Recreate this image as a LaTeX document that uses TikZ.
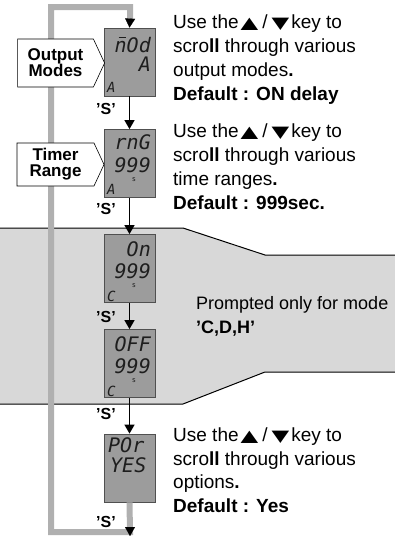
\documentclass[tikz,border=0pt]{standalone}
\usepackage{fontspec}
\usepackage{graphicx}
\setmainfont{Liberation Sans}
\newfontfamily\symfont{DejaVu Sans}
\newfontfamily\segfont{DejaVu Sans Mono}
\usetikzlibrary{arrows.meta,shapes.symbols}
\definecolor{loopgray}{HTML}{B0B0B0}
\definecolor{bandgray}{HTML}{D8D8D8}
\definecolor{boxgray}{HTML}{9C9C9C}
\definecolor{boxedge}{HTML}{505050}
\definecolor{segink}{HTML}{1E1E1E}
\newcommand{\uptri}{{\symfont\fontsize{17}{17}\selectfont\scalebox{1.35}[0.95]{▲}}}
\newcommand{\dntri}{{\symfont\fontsize{17}{17}\selectfont\scalebox{1.35}[0.95]{▼}}}
\newcommand{\barn}{\rlap{\kern4pt\raisebox{14pt}{\rule{7pt}{1.3pt}}}n}
\begin{document}
\begin{tikzpicture}[x=1pt,y=-1pt,
  disp/.style={draw=boxedge,fill=boxgray,line width=0.8pt,minimum width=51pt,minimum height=68pt,inner sep=0pt},
  seg/.style={inner sep=0pt,text depth=0pt,text=segink,font=\segfont\itshape\fontsize{20}{20}\selectfont},
  segs/.style={inner sep=0pt,text depth=0pt,text=segink,font=\segfont\itshape\fontsize{14}{14}\selectfont},
  segtiny/.style={inner sep=0pt,text depth=0pt,text=segink,font=\segfont\fontsize{7}{7}\selectfont},
  tag/.style={draw=black,fill=white,line width=0.6pt,signal,signal to=east,signal pointer angle=130,
    minimum width=87pt,minimum height=48pt,inner sep=0pt,align=center,
    font=\bfseries\fontsize{17}{16}\selectfont},
  slabel/.style={inner sep=0pt,font=\bfseries\fontsize{16}{16}\selectfont},
  desc/.style={inner sep=0pt,anchor=base west,font=\fontsize{19}{24}\selectfont},
  descb/.style={desc,font=\bfseries\fontsize{19}{24}\selectfont},
  arr/.style={line width=1.5pt,-{Triangle[length=9pt,width=10pt]}},
  loopline/.style={loopgray,line width=6pt}
]
\useasboundingbox (0,0) rectangle (395,536);
% band
\fill[bandgray] (0,228) -- (183,228) -- (265,255) -- (395,255) -- (395,372) -- (265,372) -- (183,404) -- (0,404) -- cycle;
\draw[line width=1pt] (0,228) -- (183,228) -- (265,255) -- (395,255);
\draw[line width=1pt] (0,404) -- (183,404) -- (265,372) -- (395,372);
% displays
\node[disp] (b1) at (129.5,62) {};
\node[disp] (b2) at (129.5,163.5) {};
\node[disp] (b3) at (129.5,268.5) {};
\node[disp] (b4) at (129.5,363.5) {};
\node[disp] (b5) at (129.5,468) {};
% display contents
\node[seg,anchor=base east] (d1a) at (151,52) {\barn Od};
\node[seg,anchor=base east] (d1b) at (151,71) {A};
\node[segs,anchor=base west] (d1c) at (107,92) {A};
\node[seg,anchor=base east] (d2a) at (151,149) {rnG};
\node[seg,anchor=base east] (d2b) at (151,172) {999};
\node[segtiny] (d2s) at (134,180) {s};
\node[segs,anchor=base west] (d2c) at (107,194) {A};
\node[seg,anchor=base east] (d3a) at (151,256) {On};
\node[seg,anchor=base east] (d3b) at (151,278) {999};
\node[segtiny] (d3s) at (134,286) {s};
\node[segs,anchor=base west] (d3c) at (107,301) {C};
\node[seg,anchor=base east] (d4a) at (151,351) {OFF};
\node[seg,anchor=base east] (d4b) at (151,373) {999};
\node[segtiny] (d4s) at (134,381) {s};
\node[segs,anchor=base west] (d4c) at (107,396) {C};
\node[seg,anchor=base west] (d5a) at (108,452) {POr};
\node[seg,anchor=base west] (d5b) at (110,472) {YES};
% loop
\coordinate (lb) at (130,532);
\coordinate (lbl) at (51,532);
\coordinate (ltl) at (51,7);
\coordinate (lt) at (130,7);
\coordinate (ltend) at (130,20);
\coordinate (lbend) at (130,527);
\coordinate (bottomtip) at (130,536);
\draw[loopline] (b5.south) -- (lb) -- (lbl) -- (ltl) -- (lt) -- (ltend);
\draw[line width=0.1pt,-{Triangle[length=9pt,width=10pt]}] (ltend) -- (b1.north);
\draw[line width=0.1pt,-{Triangle[length=9pt,width=10pt]}] (lbend) -- (bottomtip);
% tags
\node[tag] (om) at (55.5,63) {Output\\Modes};
\node[tag,minimum height=43pt] (tr) at (55.5,164.5) {Timer\\Range};
% arrows
\draw[arr] (b1.south) -- (b2.north);
\draw[arr] (b2.south) -- (b3.north);
\draw[arr] (b3.south) -- (b4.north);
\draw[arr] (b4.south) -- (b5.north);
% S labels
\node[slabel] (s1) at (106,109) {'S'};
\node[slabel] (s2) at (106,209) {'S'};
\node[slabel] (s3) at (106,317) {'S'};
\node[slabel] (s4) at (106,414) {'S'};
\node[slabel] (s5) at (106,521.5) {'S'};
% descriptions
\node[desc] (t11) at (173,28) {Use the\kern2pt\uptri\kern4pt/\kern4pt\dntri\kern2pt key to};
\node[desc] (t12) at (173,52) {scro\textbf{ll} through various};
\node[desc] (t13) at (173,76) {output modes\textbf{.}};
\node[descb] (t14) at (173,100) {Default : ON delay};
\node[desc] (t21) at (173,137) {Use the\kern2pt\uptri\kern4pt/\kern4pt\dntri\kern2pt key to};
\node[desc] (t22) at (173,161) {scro\textbf{ll} through various};
\node[desc] (t23) at (173,185) {time ranges\textbf{.}};
\node[descb] (t24) at (173,209) {Default : 999sec.};
\node[desc,font=\fontsize{18}{22}\selectfont] (p1) at (196,309) {Prompted only for mode};
\node[descb,font=\bfseries\fontsize{18}{22}\selectfont] (p2) at (196,333) {'C,D,H'};
\node[desc] (t31) at (173,441) {Use the\kern2pt\uptri\kern4pt/\kern4pt\dntri\kern2pt key to};
\node[desc] (t32) at (173,465) {scro\textbf{ll} through various};
\node[desc] (t33) at (173,488) {options\textbf{.}};
\node[descb] (t34) at (173,512) {Default : Yes};
\end{tikzpicture}
\end{document}
